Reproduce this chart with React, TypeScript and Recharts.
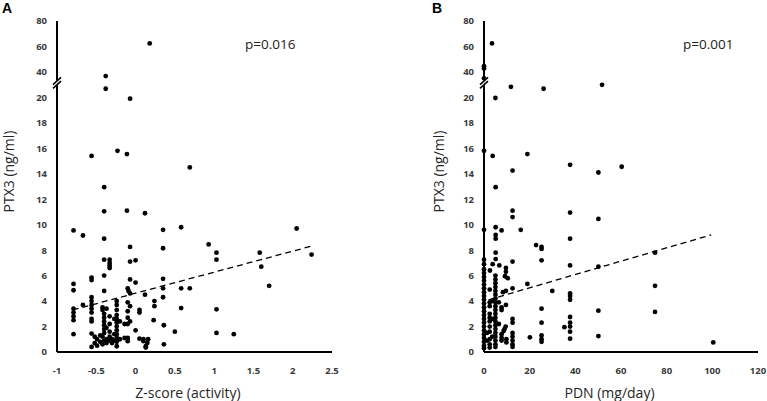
import React from 'react';
import { ScatterChart, Scatter, XAxis, YAxis, ReferenceLine } from 'recharts';

// Panel A: Z-score (activity) vs PTX3 (ng/ml)
const panelAPoints: [number, number][] = [
  [0.18, 62.4], [-0.38, 36.7], [-0.38, 26.8], [-0.07, 19.9],
  [-0.56, 15.4], [-0.23, 15.8], [-0.11, 15.55], [0.69, 14.5],
  [-0.4, 12.95], [-0.4, 11.05], [-0.11, 11.1], [0.12, 10.9],
  [-0.79, 9.55], [-0.67, 9.15], [-0.4, 8.9], [0.35, 9.6], [0.58, 9.8], [2.05, 9.7],
  [-0.07, 8.25], [0.35, 8.15], [0.93, 8.45], [1.03, 7.8], [1.03, 7.25], [1.58, 7.8], [1.6, 6.7], [2.24, 7.65],
  [-0.4, 7.25], [-0.33, 7.25], [-0.33, 7.0], [-0.33, 6.8], [-0.33, 6.6], [-0.07, 7.1], [0.0, 7.2],
  [-0.79, 5.35], [-0.79, 4.85], [-0.56, 5.85], [-0.56, 5.65], [-0.4, 6.0], [-0.4, 4.8],
  [-0.07, 5.7], [0.0, 5.45], [-0.1, 5.0], [-0.09, 4.8], [-0.07, 4.6], [0.12, 4.5],
  [0.35, 5.75], [0.35, 5.0], [0.58, 5.0], [0.69, 5.0], [1.7, 5.2],
  [-0.67, 3.7], [-0.79, 3.4], [-0.79, 3.1], [-0.79, 2.8], [-0.79, 2.5], [-0.79, 1.4],
  [-0.56, 4.3], [-0.56, 4.0], [-0.56, 3.7], [-0.56, 3.4], [-0.56, 3.1], [-0.56, 2.6], [-0.56, 2.4], [-0.56, 1.45], [-0.56, 0.4],
  [-0.52, 1.2], [-0.52, 0.7], [-0.49, 1.0], [-0.49, 0.5],
  [-0.45, 1.3], [-0.45, 0.8],
  [-0.42, 3.5], [-0.42, 3.3], [-0.42, 1.2], [-0.42, 0.6],
  [-0.4, 3.0], [-0.4, 2.7], [-0.4, 2.4], [-0.4, 2.1], [-0.4, 1.8], [-0.4, 1.5], [-0.4, 0.9],
  [-0.37, 3.4], [-0.37, 1.9], [-0.37, 1.0], [-0.37, 0.7],
  [-0.33, 2.8], [-0.33, 2.2], [-0.33, 1.6], [-0.33, 1.2], [-0.33, 0.9],
  [-0.3, 1.0], [-0.3, 0.7],
  [-0.27, 2.6], [-0.27, 1.4], [-0.27, 0.9],
  [-0.24, 4.0], [-0.24, 3.7], [-0.24, 3.3], [-0.24, 2.9], [-0.24, 2.6], [-0.24, 2.3], [-0.24, 2.0], [-0.24, 1.7], [-0.24, 1.4], [-0.24, 1.1], [-0.24, 0.8], [-0.24, 0.45],
  [-0.2, 2.4], [-0.2, 1.0],
  [-0.14, 2.2], [-0.14, 1.1],
  [-0.1, 3.9], [-0.1, 3.2], [-0.1, 2.7], [-0.1, 2.2], [-0.1, 1.1], [-0.1, 0.85],
  [-0.07, 3.6], [-0.07, 2.4],
  [0.0, 1.7], [0.05, 3.3], [0.05, 3.1], [0.05, 1.05],
  [0.1, 1.0], [0.1, 0.85], [0.13, 0.45], [0.13, 0.35], [0.15, 0.7], [0.16, 1.0],
  [0.24, 4.0], [0.24, 3.6], [0.23, 2.5],
  [0.35, 4.3], [0.36, 2.1], [0.36, 0.6],
  [0.5, 1.6], [0.58, 3.45], [1.03, 3.35], [1.03, 1.5], [1.25, 1.4],
];
const trendA: [number, number][] = [[-0.8, 3.3], [2.23, 8.3]];
const xTicksA = [-1, -0.5, 0, 0.5, 1, 1.5, 2, 2.5];

// Panel B: PDN (mg/day) vs PTX3 (ng/ml)
const panelBPoints: [number, number][] = [
  [3.5, 62.4], [0, 44.5], [0, 42.6], [0, 35], [11.8, 28.3], [26.1, 26.8], [51.7, 29.9], [5.0, 19.95],
  [0, 15.8], [3.8, 15.4], [19.0, 15.55], [37.7, 14.7], [50.1, 14.1], [60.3, 14.55], [12.5, 14.25],
  [5.1, 12.95], [12.5, 11.1], [12.5, 10.6], [37.7, 10.95], [50.1, 10.45],
  [0, 9.6], [5.1, 9.8], [5.1, 9.2], [5.1, 8.9], [7.7, 9.55], [16.1, 9.6], [37.7, 8.9],
  [22.8, 8.4], [25.2, 8.25], [25.2, 8.1],
  [5.1, 7.8], [74.9, 7.8], [0, 7.25], [5.1, 7.3], [12.5, 7.1], [25.2, 7.2],
  [0, 6.9], [3.8, 6.9], [6.7, 6.8], [9.6, 6.6], [37.7, 6.8], [50.1, 6.7],
  [2.6, 6.4], [9.6, 6.3], [9.2, 5.95], [10.4, 5.8], [19.0, 5.35], [29.9, 4.8], [74.9, 5.2],
  [37.7, 4.6], [37.7, 4.4], [37.7, 4.1], [12.5, 5.0], [9.6, 4.8], [8.3, 4.7],
  [9.6, 3.7], [7.7, 3.5], [7.7, 3.3], [25.2, 3.4], [50.1, 3.25], [74.9, 3.15],
  [37.7, 2.75], [37.7, 2.3], [37.7, 2.0], [37.7, 1.6], [37.7, 1.05], [35.2, 1.95],
  [25.2, 2.3], [25.2, 1.3], [25.2, 1.0], [25.2, 0.8], [20.1, 1.15], [50.1, 1.25], [100.4, 0.75],
  [12.5, 2.6], [12.5, 2.3], [12.5, 1.5], [12.5, 1.2], [12.5, 0.9], [12.5, 0.6], [12.5, 0.4],
  [9.5, 2.0], [9.0, 1.8], [8.6, 1.65], [7.7, 1.4], [7.7, 1.1], [7.7, 0.9], [9.8, 1.0], [9.8, 0.75],
  [0, 6.5], [0, 6.2], [0, 5.9], [0, 5.6], [0, 5.3], [0, 5.0], [0, 4.7], [0, 4.4], [0, 4.1], [0, 3.8], [0, 3.5],
  [0, 3.2], [0, 2.9], [0, 2.6], [0, 2.3], [0, 2.0], [0, 1.7], [0, 1.4], [0, 1.1], [0, 0.8], [0, 0.5], [0, 0.3],
  [2.5, 4.9], [2.5, 3.9], [2.5, 3.6], [2.5, 3.0], [2.5, 2.7], [2.5, 2.4], [2.5, 2.0], [2.5, 1.6], [2.5, 1.0], [2.5, 0.6], [2.5, 0.35],
  [1.3, 1.5], [1.3, 0.9],
  [5.0, 6.0], [5.0, 5.7], [5.0, 5.4], [5.0, 5.1], [5.0, 4.8], [5.0, 4.5], [5.0, 4.2], [5.0, 3.9], [5.0, 3.6], [5.0, 3.3],
  [5.0, 3.0], [5.0, 2.7], [5.0, 2.4], [5.0, 2.1], [5.0, 1.8], [5.0, 1.5], [5.0, 1.2], [5.0, 0.9], [5.0, 0.6], [5.0, 0.4],
  [3.8, 4.0], [3.6, 2.6], [3.6, 1.2], [6.5, 3.9], [6.5, 2.2],
];
const trendB: [number, number][] = [[2, 4.1], [99.5, 9.2]];
const xTicksB = [0, 20, 40, 60, 80, 100, 120];

// Broken y axis: 0-20 linear, 20-80 compressed 10x
const yTickValues = [0, 2, 4, 6, 8, 10, 12, 14, 16, 18, 20, 40, 60, 80];
const toBroken = (v: number) => (v <= 20 ? v : 20 + (v - 20) / 10);
const fromBroken = (v: number) => (v <= 20 ? v : Math.round(20 + (v - 20) * 10));
const BREAK_AT = 21.14;
const Y_TOP = 26;

// layout
const CHART_H = 401;
const MARGIN_TOP = 21;
const MARGIN_BOTTOM = 19;
const X_AXIS_H = 30;
const PLOT_H = CHART_H - MARGIN_TOP - MARGIN_BOTTOM - X_AXIS_H;
const breakY = MARGIN_TOP + ((Y_TOP - BREAK_AT) / Y_TOP) * PLOT_H;

const tickStyle = { fontFamily: 'Open Sans', fontWeight: 700, fontSize: 9.5, fill: '#3a3a3a' };
const axisLineStyle = { stroke: '#000', strokeWidth: 2 };

const Dot = (props: any) => <circle cx={props.cx} cy={props.cy} r={2.4} fill="#000" />;

type PanelProps = {
  points: [number, number][];
  trend: [number, number][];
  xTicks: number[];
  width: number;
  yAxisWidth: number;
  right: number;
};

const Panel = ({ points, trend, xTicks, width, yAxisWidth, right }: PanelProps) => {
  const data = points.map(([x, y]) => ({ x, y: toBroken(y) }));
  const x0 = xTicks[0];
  const x1 = xTicks[xTicks.length - 1];
  return (
    <ScatterChart width={width} height={CHART_H} margin={{ top: MARGIN_TOP, right, bottom: MARGIN_BOTTOM, left: 0 }}>
      <XAxis
        type="number"
        dataKey="x"
        domain={[x0, x1]}
        ticks={xTicks}
        interval={0}
        height={X_AXIS_H}
        tickLine={false}
        tickSize={0}
        tickMargin={15}
        axisLine={axisLineStyle}
        tick={tickStyle}
      />
      <YAxis
        type="number"
        dataKey="y"
        domain={[0, Y_TOP]}
        ticks={yTickValues.map(toBroken)}
        interval={0}
        width={yAxisWidth}
        tickLine={false}
        tickSize={0}
        tickMargin={10}
        axisLine={axisLineStyle}
        tick={tickStyle}
        tickFormatter={(v: number) => String(fromBroken(v))}
      />
      <ReferenceLine
        segment={[{ x: trend[0][0], y: trend[0][1] }, { x: trend[1][0], y: trend[1][1] }]}
        stroke="#000"
        strokeWidth={1.3}
        strokeDasharray="6 4"
        ifOverflow="visible"
      />
      <Scatter data={data} shape={Dot} isAnimationActive={false} />
    </ScatterChart>
  );
};

const BreakMark = ({ cx, cy }: { cx: number; cy: number }) => (
  <g>
    <rect x={cx - 3} y={cy - 2.2} width={6} height={4.4} fill="#fff" />
    <line x1={cx - 4} y1={cy + 1.8} x2={cx + 4} y2={cy - 5.5} stroke="#000" strokeWidth={1.6} />
    <line x1={cx - 4} y1={cy + 5.5} x2={cx + 4} y2={cy - 1.8} stroke="#000" strokeWidth={1.6} />
  </g>
);

const labelStyle = { fontFamily: 'Open Sans', fontSize: 14, fill: '#262626' };
const PANEL_A_W = 340;
const PANEL_B_LEFT = 400;
const PANEL_B_W = 367;
const Y_AXIS_A = 57;
const Y_AXIS_B = 84;

export default function App() {
  return (
    <div style={{ position: 'absolute', left: 0, top: 0, width: 767, height: 401, background: '#fff' }}>
      <div style={{ position: 'absolute', left: 0, top: 0, width: PANEL_A_W, height: CHART_H }}>
        <Panel points={panelAPoints} trend={trendA} xTicks={xTicksA} width={PANEL_A_W} yAxisWidth={Y_AXIS_A} right={8} />
      </div>
      <div style={{ position: 'absolute', left: PANEL_B_LEFT, top: 0, width: PANEL_B_W, height: CHART_H }}>
        <Panel points={panelBPoints} trend={trendB} xTicks={xTicksB} width={PANEL_B_W} yAxisWidth={Y_AXIS_B} right={9} />
      </div>
      <svg width={767} height={401} style={{ position: 'absolute', left: 0, top: 0, pointerEvents: 'none' }}>
        <BreakMark cx={Y_AXIS_A} cy={breakY} />
        <BreakMark cx={PANEL_B_LEFT + Y_AXIS_B} cy={breakY} />
        <text x={2} y={13} style={{ fontFamily: 'Liberation Sans', fontWeight: 700, fontSize: 14, fill: '#000' }}>A</text>
        <text x={432} y={13} style={{ fontFamily: 'Liberation Sans', fontWeight: 700, fontSize: 14, fill: '#000' }}>B</text>
        <text x={245} y={48.5} style={{ fontFamily: 'Open Sans', fontSize: 13.5, fill: '#222' }}>p=0.016</text>
        <text x={683} y={48.5} style={{ fontFamily: 'Open Sans', fontSize: 13.5, fill: '#222' }}>p=0.001</text>
        <text x={188} y={397.5} textAnchor="middle" style={labelStyle}>Z-score (activity)</text>
        <text x={609.5} y={397.5} textAnchor="middle" style={labelStyle}>PDN (mg/day)</text>
        <text transform="translate(14,171.5) rotate(-90)" textAnchor="middle" style={labelStyle}>PTX3 (ng/ml)</text>
        <text transform="translate(444,171.5) rotate(-90)" textAnchor="middle" style={labelStyle}>PTX3 (ng/ml)</text>
      </svg>
    </div>
  );
}
